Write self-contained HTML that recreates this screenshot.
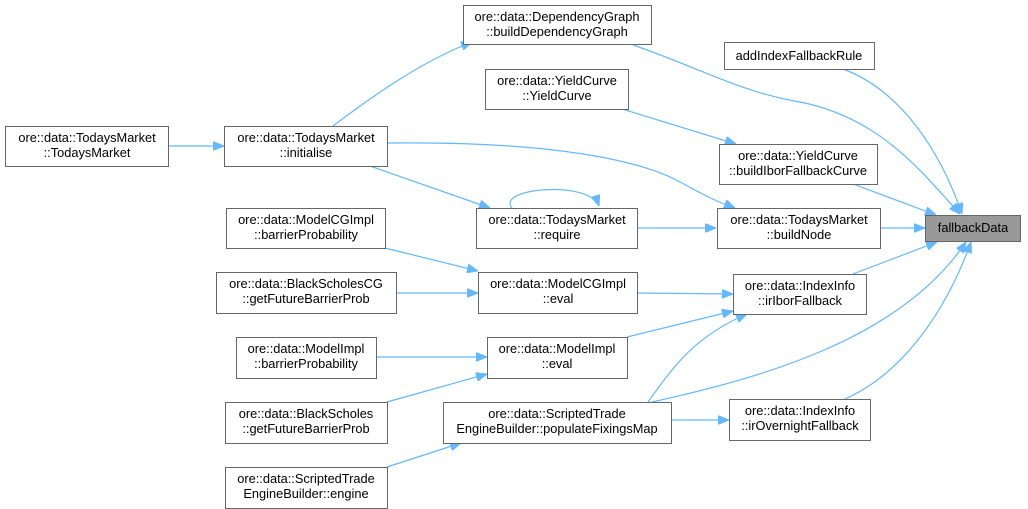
<!DOCTYPE html>
<html><head><meta charset="utf-8"><style>
html,body{margin:0;padding:0;background:#fff;width:1028px;height:509px;overflow:hidden}
svg{display:block}
text{font-family:"Liberation Sans",Arial,sans-serif;font-size:12.8px;fill:#000}
</style></head><body>
<svg width="1028" height="509" viewBox="0 0 1028 509">
<defs><marker id="a" viewBox="0 0 11 9" refX="11" refY="4.5" markerWidth="11" markerHeight="9" orient="auto" markerUnits="userSpaceOnUse"><path d="M0,0 L11,4.5 L0,9 z" fill="#63b8ff" stroke="#63b8ff"/></marker></defs>
<g fill="none" stroke="#63b8ff" stroke-width="1.2" marker-end="url(#a)">
<path d="M168,146 L224,146"/>
<path d="M333,126 C370,98 420,62 472,42"/>
<path d="M387,143 C550,141 640,160 680,182 S725,204 735,208"/>
<path d="M370,166 L490,208"/>
<path d="M512,208 C495,188 590,180 599,206"/>
<path d="M637,228 L716,228"/>
<path d="M880,228 L925,228"/>
<path d="M633,45 C700,68 740,92 800,102 C880,118 920,170 960,214"/>
<path d="M843,69 C900,90 940,150 962,214"/>
<path d="M622,109 L736,144"/>
<path d="M853,184 L936,215"/>
<path d="M385,248 L478,271"/>
<path d="M396,293 L478,293"/>
<path d="M637,293 L733,294"/>
<path d="M853,274 L937,242"/>
<path d="M376,357 L487,357"/>
<path d="M387,402 L487,374"/>
<path d="M627,337 L733,311"/>
<path d="M648,402 C668,375 690,338 747,314"/>
<path d="M652,402 C760,378 900,340 966,242"/>
<path d="M671,420 L729,420"/>
<path d="M845,399 C910,370 950,300 971,242"/>
<path d="M387,467 L461,443"/>
</g>
<g fill="#fff" stroke="#666" stroke-width="1">
<rect x="5.5" y="126.5" width="163" height="40"/>
<rect x="224.5" y="126.5" width="163" height="40"/>
<rect x="463.5" y="5.5" width="188" height="39"/>
<rect x="485.5" y="69.5" width="143" height="40"/>
<rect x="724.5" y="42.5" width="150" height="27"/>
<rect x="719.5" y="144.5" width="158" height="40"/>
<rect x="476.5" y="208.5" width="161" height="40"/>
<rect x="717.5" y="208.5" width="163" height="40"/>
<rect x="925.5" y="215.5" width="95" height="26" fill="#999"/>
<rect x="226.5" y="208.5" width="159" height="40"/>
<rect x="216.5" y="272.5" width="180" height="41"/>
<rect x="478.5" y="272.5" width="159" height="41"/>
<rect x="733.5" y="274.5" width="133" height="40"/>
<rect x="236.5" y="337.5" width="140" height="41"/>
<rect x="487.5" y="337.5" width="140" height="41"/>
<rect x="225.5" y="402.5" width="162" height="41"/>
<rect x="443.5" y="402.5" width="228" height="41"/>
<rect x="729.5" y="399.5" width="141" height="41"/>
<rect x="225.5" y="467.5" width="162" height="41"/>
</g>
<g text-anchor="middle">
<text x="87" y="142">ore::data::TodaysMarket</text><text x="87" y="157">::TodaysMarket</text>
<text x="306" y="142">ore::data::TodaysMarket</text><text x="306" y="157">::initialise</text>
<text x="557" y="21">ore::data::DependencyGraph</text><text x="557" y="36">::buildDependencyGraph</text>
<text x="557" y="85">ore::data::YieldCurve</text><text x="557" y="100">::YieldCurve</text>
<text x="799" y="60">addIndexFallbackRule</text>
<text x="798" y="160">ore::data::YieldCurve</text><text x="798" y="175">::buildIborFallbackCurve</text>
<text x="557" y="224">ore::data::TodaysMarket</text><text x="557" y="239">::require</text>
<text x="799" y="224">ore::data::TodaysMarket</text><text x="799" y="239">::buildNode</text>
<text x="973" y="232">fallbackData</text>
<text x="306" y="224">ore::data::ModelCGImpl</text><text x="306" y="239">::barrierProbability</text>
<text x="306" y="288">ore::data::BlackScholesCG</text><text x="306" y="303">::getFutureBarrierProb</text>
<text x="558" y="288">ore::data::ModelCGImpl</text><text x="558" y="303">::eval</text>
<text x="800" y="290">ore::data::IndexInfo</text><text x="800" y="305">::irIborFallback</text>
<text x="306" y="353">ore::data::ModelImpl</text><text x="306" y="368">::barrierProbability</text>
<text x="557" y="353">ore::data::ModelImpl</text><text x="557" y="368">::eval</text>
<text x="306" y="418">ore::data::BlackScholes</text><text x="306" y="433">::getFutureBarrierProb</text>
<text x="557" y="418">ore::data::ScriptedTrade</text><text x="557" y="433">EngineBuilder::populateFixingsMap</text>
<text x="800" y="415">ore::data::IndexInfo</text><text x="800" y="430">::irOvernightFallback</text>
<text x="306" y="483">ore::data::ScriptedTrade</text><text x="306" y="498">EngineBuilder::engine</text>
</g>
</svg>
</body></html>
